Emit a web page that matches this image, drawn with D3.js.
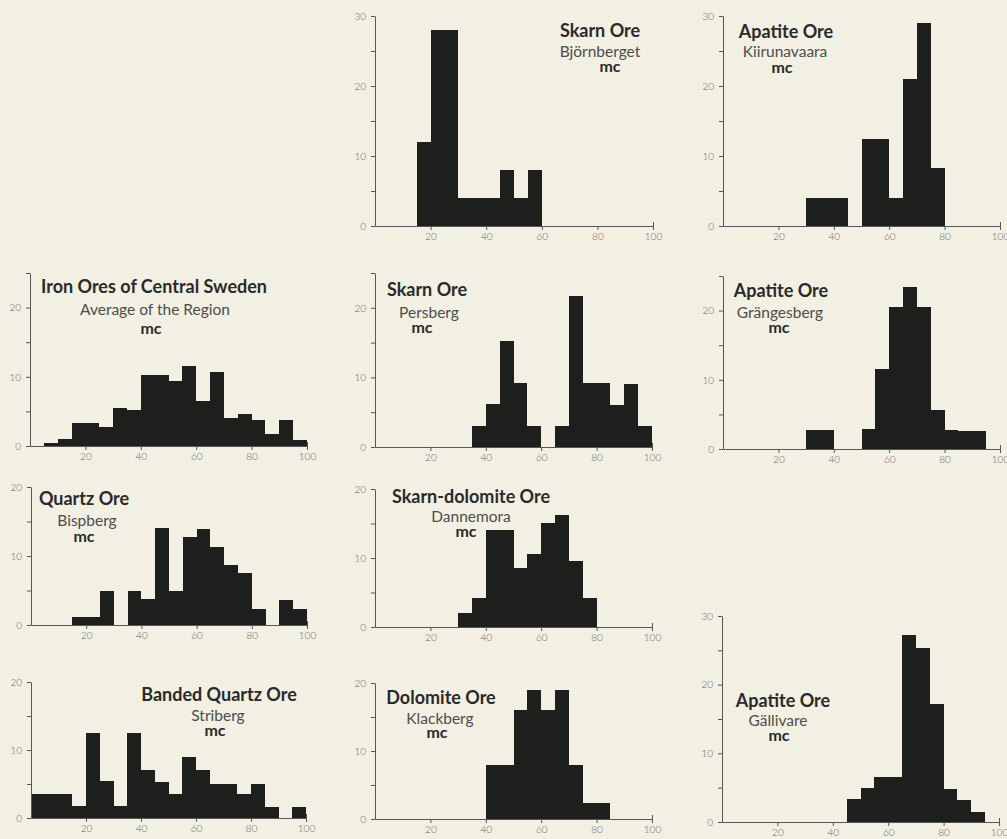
<!DOCTYPE html>
<html>
<head>
<meta charset="utf-8">
<script src="https://cdn.jsdelivr.net/npm/d3@7"></script>
<style>
  body { margin: 0; background: #f2f0e3; }
  svg { display: block; }
  .tick text { font-family: Lato, sans-serif; font-weight: 300; font-size: 10px; fill: #666; }
  .tick line, .domain { stroke: #555; }
</style>
</head>
<body>
<div id="chart"></div>
<script>
// 5-unit bins from 0-5 up to 95-100, counts
var binStarts = d3.range(0, 100, 5);
var xTicks = [20, 40, 60, 80, 100];

var bjornberget  = [0,0,0,12,28,28,4,4,4,8,4,8,0,0,0,0,0,0,0,0];
var kiirunavaara = [0,0,0,0,0,0,4,4,4,0,12.5,12.5,4,21,29,8.3,0,0,0,0];
var central      = [0,0.5,1.0,3.3,3.3,2.8,5.5,5.2,10.3,10.3,9.4,11.6,6.5,10.7,4.1,4.6,3.7,1.8,3.7,0.8];
var persberg     = [0,0,0,0,0,0,0,3,6.2,15.3,9.2,3,0,3,21.7,9.2,9.2,6,9.1,3];
var grangesberg  = [0,0,0,0,0,0,2.7,2.7,0,0,2.9,11.5,20.5,23.4,20.5,5.7,2.7,2.6,2.6,0];
var bispberg     = [0,0,0,1.1,1.2,5,0,5,3.8,14,4.9,12.7,13.9,11.3,8.7,7.6,2.3,0,3.6,2.3];
var dannemora    = [0,0,0,0,0,0,2,4.2,14,14,8.5,10.6,15.1,16.2,9.6,4.2,0,0,0,0];
var striberg     = [3.5,3.5,3.5,1.7,12.5,5.4,1.7,12.5,7.1,5.3,3.5,8.9,7,5,5,3.5,5,1.6,0,1.6];
var klackberg    = [0,0,0,0,0,0,0,0,8,8,16.1,18.9,16.1,18.9,8,2.3,2.3,0,0,0];
var gallivare    = [0,0,0,0,0,0,0,0,0,3.3,4.9,6.6,6.6,27.2,25.4,17.2,4.8,3.2,1.5,0];

var oreTypes  = ["Skarn Ore", "Apatite Ore", "Iron Ores of Central Sweden", "Skarn Ore", "Apatite Ore",
                 "Quartz Ore", "Skarn-dolomite Ore", "Banded Quartz Ore", "Dolomite Ore", "Apatite Ore"];
var localities = ["Björnberget", "Kiirunavaara", "Average of the Region", "Persberg", "Grängesberg",
                  "Bispberg", "Dannemora", "Striberg", "Klackberg", "Gällivare"];
var yMaxes = [30, 30, 25, 25, 25, 20, 20, 20, 20, 30];
var seriesList = [bjornberget, kiirunavaara, central, persberg, grangesberg,
                  bispberg, dannemora, striberg, klackberg, gallivare];

// page placement of each panel: axis origin, x=100 end, top of y axis, label centres/baselines
var layout = [
  { x0: 375, x1: 653, y0: 226, y1: 16,  labels: [[600, 37], [600, 57], [610, 72]] },
  { x0: 723, x1: 1000, y0: 226, y1: 16, labels: [[786, 38], [785, 57], [782, 73]] },
  { x0: 30,  x1: 307, y0: 446, y1: 273, labels: [[154, 293], [155, 315], [151, 334]] },
  { x0: 375, x1: 652, y0: 447, y1: 273, labels: [[427, 296], [429, 318], [422, 333]] },
  { x0: 723, x1: 1000, y0: 449, y1: 276, labels: [[781, 297], [780, 318], [779, 333]] },
  { x0: 31,  x1: 307, y0: 625, y1: 487, labels: [[84, 505], [87, 526], [84, 542]] },
  { x0: 375, x1: 652, y0: 627, y1: 489, labels: [[471, 503], [471, 522], [466, 537]] },
  { x0: 31,  x1: 306, y0: 818, y1: 682, labels: [[219, 701], [218, 721], [215, 736]] },
  { x0: 375, x1: 652, y0: 819, y1: 683, labels: [[441, 704], [440, 724], [437, 738]] },
  { x0: 722, x1: 999, y0: 822, y1: 616, labels: [[783, 707], [778, 726], [779, 741]] }
];

var svg = d3.select("#chart")
    .append("svg")
    .attr("width", 1007)
    .attr("height", 839);

svg.append("rect")
    .attr("width", 1007)
    .attr("height", 839)
    .attr("fill", "#f2f0e3");

seriesList.forEach(function (values, i) {
    var L = layout[i];
    var g = svg.append("g");

    var x = d3.scaleLinear().domain([0, 100]).range([L.x0, L.x1]);
    var y = d3.scaleLinear().domain([0, yMaxes[i]]).range([L.y0, L.y1]);

    var bins = binStarts.map((b, k) => ({ start: b, value: values[k] }));

    g.selectAll("rect.bar")
        .data(bins.filter(d => d.value > 0))
        .enter()
        .append("rect")
        .attr("class", "bar")
        .attr("x", d => x(d.start))
        .attr("y", d => y(d.value))
        .attr("width", d => x(d.start + 5) - x(d.start))
        .attr("height", d => y(0) - y(d.value))
        .attr("fill", "#1c1f1c")
        .attr("shape-rendering", "crispEdges");

    // y axis: ticks every 5, labels every 10
    g.append("g")
        .attr("transform", "translate(" + L.x0 + ",0)")
        .call(d3.axisLeft(y)
            .tickValues(d3.range(0, yMaxes[i] + 1, 5))
            .tickFormat(d => d % 10 === 0 ? d : "")
            .tickSize(4)
            .tickSizeOuter(0)
            .tickPadding(5));

    // x axis
    var xa = g.append("g")
        .attr("transform", "translate(0," + L.y0 + ")")
        .call(d3.axisBottom(x)
            .tickValues(xTicks)
            .tickSize(4)
            .tickSizeOuter(0)
            .tickPadding(3));
    xa.selectAll(".tick")
        .filter(d => d === 100)
        .select("line")
        .attr("y1", -4);

    g.selectAll(".domain, .tick line").attr("stroke", "#555").attr("stroke-width", 1);

    var texts = [
        { t: oreTypes[i], size: 18, weight: 700, fill: "#2a2a2a" },
        { t: localities[i], size: 15.5, weight: 400, fill: "#4d4d4d" },
        { t: "mc", size: 16, weight: 700, fill: "#2a2a2a" }
    ];
    texts.forEach(function (d, k) {
        g.append("text")
            .attr("x", L.labels[k][0])
            .attr("y", L.labels[k][1])
            .attr("text-anchor", "middle")
            .style("font-family", "Lato, sans-serif")
            .style("font-size", d.size + "px")
            .style("font-weight", d.weight)
            .style("fill", d.fill)
            .text(d.t);
    });
});
</script>
</body>
</html>
